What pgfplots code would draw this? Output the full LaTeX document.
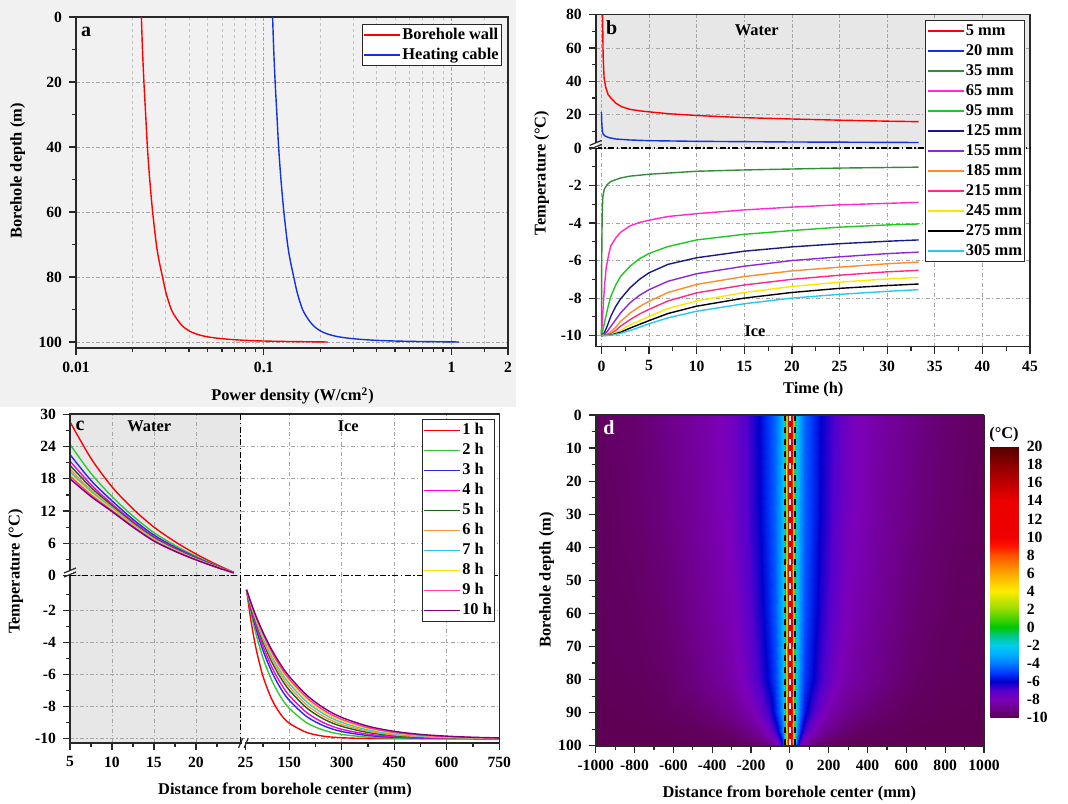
\documentclass[border=0pt]{standalone}
\usepackage{fontspec}
\setmainfont{Liberation Serif}
\usepackage{pgfplots}
\usepackage{pgfplotstable}
\pgfplotsset{compat=1.18}

\definecolor{bgA}{RGB}{241,241,241}
\definecolor{fillgray}{RGB}{231,231,231}
\definecolor{gridc}{RGB}{165,165,165}
\definecolor{frame}{RGB}{40,40,40}
\definecolor{bA}{RGB}{255,0,0}
\definecolor{bB}{RGB}{20,50,220}
\definecolor{bC}{RGB}{50,140,60}
\definecolor{bD}{RGB}{255,40,210}
\definecolor{bE}{RGB}{30,200,30}
\definecolor{bF}{RGB}{25,25,130}
\definecolor{bG}{RGB}{140,40,220}
\definecolor{bH}{RGB}{255,140,40}
\definecolor{bI}{RGB}{255,40,130}
\definecolor{bJ}{RGB}{255,230,0}
\definecolor{bK}{RGB}{0,0,0}
\definecolor{bL}{RGB}{40,200,240}
\definecolor{hA}{RGB}{255,0,0}
\definecolor{hB}{RGB}{50,200,50}
\definecolor{hC}{RGB}{40,40,230}
\definecolor{hD}{RGB}{255,0,230}
\definecolor{hE}{RGB}{20,100,20}
\definecolor{hF}{RGB}{255,150,50}
\definecolor{hG}{RGB}{40,200,240}
\definecolor{hH}{RGB}{255,230,0}
\definecolor{hI}{RGB}{255,60,160}
\definecolor{hJ}{RGB}{128,0,128}

\newcommand\tickf{\bfseries\fontsize{7.8}{9}\selectfont}
\newcommand\lab{\bfseries\fontsize{8.2}{10}\selectfont}

\pgfplotsset{
  colormap={heat}{rgb255(0pt)=(95,0,85); rgb255(1pt)=(110,0,140); rgb255(2pt)=(125,0,185);
    rgb255(3pt)=(85,0,205); rgb255(4pt)=(0,0,205); rgb255(5pt)=(0,60,255); rgb255(6pt)=(0,125,255);
    rgb255(7pt)=(0,175,255); rgb255(8pt)=(0,205,235); rgb255(9pt)=(0,200,140); rgb255(10pt)=(0,200,0);
    rgb255(12pt)=(150,220,0); rgb255(14pt)=(255,235,0); rgb255(16pt)=(255,165,0); rgb255(18pt)=(255,80,0);
    rgb255(19pt)=(255,20,0); rgb255(20pt)=(240,0,0); rgb255(24pt)=(235,0,0); rgb255(26pt)=(190,0,0);
    rgb255(28pt)=(140,0,0); rgb255(30pt)=(85,0,0)},
  base/.style={scale only axis, tick align=outside, tick pos=left,
    major tick length=3.5pt, minor tick length=2pt,
    tick style={frame, line width=0.6pt},
    axis line style={frame, line width=0.8pt},
    tick label style={font=\tickf},
    /pgf/number format/assume math mode=true,
    /pgf/number format/set thousands separator={},
    scaled ticks=false,
    grid style={gridc, line width=0.4pt, dash pattern=on 2pt off 1.2pt on 0.6pt off 1.2pt},
    every axis plot/.append style={line width=0.7pt},
  },
  leg/.style={legend cell align=left,
    legend style={draw=frame, line width=0.5pt, fill=white, inner sep=0.6pt, row sep=0.6pt,
      font=\bfseries\fontsize{8.2}{9}\selectfont,
      nodes={inner sep=0.7pt, text height=6.2pt, text depth=1.8pt},
      /tikz/every even column/.append style={column sep=2pt}},
    legend image code/.code={\draw[##1, line width=0.8pt] (0pt,0pt) -- (18pt,0pt);}},
}

\pgfplotstableread{
x h1 h2 h3 h4 h5 h6 h7 h8 h9 h10
5 28.6 24.4 22.5 21.3 20.5 19.8 19.3 18.9 18.5 18.0
7.5 21.8 19.0 17.7 16.9 16.4 15.9 15.6 15.3 15.0 14.7
10 16.5 14.7 13.9 13.3 13.0 12.7 12.5 12.3 12.1 11.9
12.5 12.4 11.05 10.45 10.06 9.80 9.58 9.42 9.29 9.16 9.0
15 9.0 7.97 7.51 7.21 7.01 6.84 6.72 6.62 6.52 6.4
17.5 6.3 5.59 5.27 5.06 4.92 4.81 4.72 4.65 4.58 4.5
20 4.0 3.56 3.37 3.24 3.16 3.09 3.04 2.99 2.95 2.9
22.5 2.0 1.80 1.71 1.66 1.62 1.59 1.56 1.54 1.52 1.5
24.5 0.6 0.56 0.54 0.53 0.52 0.52 0.51 0.51 0.50 0.5
}\waterC

\pgfplotstableread{
x h1 h2 h3 h4 h5 h6 h7 h8 h9 h10
28 -0.70 -0.70 -0.70 -0.70 -0.70 -0.70 -0.70 -0.70 -0.70 -0.70
40 -2.55 -2.05 -1.86 -1.77 -1.67 -1.61 -1.56 -1.53 -1.50 -1.46
55 -4.36 -3.46 -3.11 -2.93 -2.74 -2.63 -2.53 -2.46 -2.40 -2.34
75 -6.10 -4.96 -4.49 -4.22 -3.96 -3.80 -3.66 -3.55 -3.46 -3.35
100 -7.54 -6.35 -5.82 -5.52 -5.20 -5.01 -4.82 -4.69 -4.58 -4.44
125 -8.46 -7.37 -6.84 -6.52 -6.18 -5.97 -5.78 -5.63 -5.51 -5.35
150 -9.03 -8.10 -7.60 -7.30 -6.96 -6.75 -6.55 -6.40 -6.27 -6.11
200 -9.61 -9.01 -8.62 -8.37 -8.08 -7.89 -7.70 -7.55 -7.43 -7.28
250 -9.85 -9.48 -9.21 -9.02 -8.79 -8.63 -8.47 -8.34 -8.24 -8.10
300 -9.94 -9.73 -9.55 -9.41 -9.23 -9.11 -8.98 -8.88 -8.79 -8.67
375 -9.99 -9.90 -9.80 -9.72 -9.61 -9.53 -9.45 -9.37 -9.31 -9.22
450 -10 -9.96 -9.91 -9.87 -9.81 -9.76 -9.70 -9.65 -9.61 -9.54
525 -10 -9.99 -9.96 -9.94 -9.90 -9.87 -9.84 -9.80 -9.78 -9.73
600 -10 -9.99 -9.98 -9.97 -9.95 -9.93 -9.91 -9.89 -9.87 -9.84
675 -10 -10 -9.99 -9.99 -9.98 -9.96 -9.95 -9.94 -9.93 -9.91
750 -10 -10 -10 -9.99 -9.99 -9.98 -9.97 -9.97 -9.96 -9.95
}\iceC

\begin{document}
\begin{tikzpicture}
\path[use as bounding box] (0,0) rectangle (534pt,401.5pt);
\fill[bgA] (0pt,198pt) rectangle (258pt,401.5pt);

%================ panel a
\begin{axis}[base, leg, at={(38pt,227.5pt)}, anchor=south west, width=216pt, height=165.5pt,
  xmode=log, xmin=0.01, xmax=2, ymin=0, ymax=101.85, y dir=reverse,
  xtick={0.01,0.1,1,2}, xticklabels={0.01,0.1,1,2},
  minor xtick={0.02,0.03,0.04,0.05,0.06,0.07,0.08,0.09,0.2,0.3,0.4,0.5,0.6,0.7,0.8,0.9,1.5},
  ytick={0,20,40,60,80,100}, minor ytick={10,30,50,70,90},
  xmajorgrids, ymajorgrids, xminorgrids,
  minor x grid style={gridc!70, line width=0.35pt, dash pattern=on 1.5pt off 1.5pt},
  legend style={at={(0.9854,0.9789)}, anchor=north east}]
\addplot[bA, smooth] coordinates {(0.0223,0) (0.0226,10) (0.0230,20) (0.0235,30) (0.0240,40) (0.0247,50) (0.0256,60) (0.0268,70) (0.0277,75) (0.0289,80) (0.0302,85) (0.0322,90) (0.0345,93) (0.0368,95) (0.0398,96.5) (0.0435,97.5) (0.0490,98.3) (0.0560,98.8) (0.0660,99.2) (0.0800,99.5) (0.1000,99.7) (0.135,99.85) (0.219,100)};
\addlegendentry{Borehole wall}
\addplot[bB, smooth] coordinates {(0.1115,0) (0.113,10) (0.115,20) (0.1175,30) (0.120,40) (0.1235,50) (0.128,60) (0.134,70) (0.1385,75) (0.1445,80) (0.151,85) (0.161,90) (0.1725,93) (0.184,95) (0.199,96.5) (0.2175,97.5) (0.245,98.3) (0.28,98.8) (0.33,99.2) (0.40,99.5) (0.50,99.7) (0.675,99.85) (1.095,100)};
\addlegendentry{Heating cable}
\end{axis}

%================ panel b (upper: water)
\begin{axis}[base, at={(297.85pt,327.5pt)}, anchor=south west, width=217.15pt, height=66.65pt,
  xmin=-0.6, xmax=45, ymin=0, ymax=80,
  axis line style={draw=none}, axis background/.style={fill=fillgray},
  xtick={0,5,...,45}, xticklabels={}, xtick style={draw=none},
  ytick={0,20,...,80}, minor ytick={10,30,50,70}, grid=major]
\addplot[bA] coordinates {(0.08,130) (0.12,80) (0.18,55) (0.28,42) (0.45,36.5) (0.7,32) (1,30) (1.5,27) (2.1,24.8) (3,23.2) (4,22.3) (5,21.7) (7,20.6) (10,19.5) (15,18.2) (20,17.4) (25,16.7) (30,16.1) (33.3,15.8)};
\addplot[bB] coordinates {(0,21.5) (0.03,16) (0.07,12) (0.12,9.5) (0.2,8.2) (0.4,7.1) (0.8,6.2) (1.5,5.4) (3,4.8) (5,4.4) (10,4.0) (15,3.8) (20,3.6) (25,3.5) (33.3,3.3)};
\end{axis}
%================ panel b (lower: ice)
\begin{axis}[base, at={(297.85pt,228.15pt)}, anchor=south west, width=217.15pt, height=99.35pt,
  xmin=-0.6, xmax=45, ymin=-10.59, ymax=0, axis line style={draw=none},
  xtick={0,5,...,45}, minor xtick={2.5,7.5,...,42.5},
  ytick={-10,-8,...,-2}, minor ytick={-9,-7,...,-1}, grid=major]
\addplot[bC] coordinates {(0,-10) (0.03,-6) (0.08,-3.5) (0.15,-2.6) (0.3,-2.2) (0.6,-1.95) (1,-1.78) (2,-1.6) (3,-1.5) (5,-1.4) (10,-1.24) (15,-1.17) (20,-1.12) (25,-1.07) (30,-1.04) (33.3,-1.02)};
\addplot[bD] coordinates {(0,-10) (0.1,-9.2) (0.2,-8.3) (0.35,-7.2) (0.5,-6.4) (0.75,-5.7) (1,-5.2) (1.5,-4.8) (2,-4.5) (3,-4.15) (4,-3.97) (5,-3.85) (7,-3.65) (10,-3.5) (15,-3.3) (20,-3.15) (25,-3.03) (30,-2.95) (33.3,-2.9)};
\addplot[bE] coordinates {(0,-10) (0.2,-9.6) (0.5,-8.9) (0.75,-8.35) (1,-7.9) (1.5,-7.3) (2,-6.85) (3,-6.3) (4,-5.9) (5,-5.62) (7,-5.25) (10,-4.9) (15,-4.6) (20,-4.4) (25,-4.22) (30,-4.1) (33.3,-4.05)};
\addplot[bF] coordinates {(0,-10) (0.3,-9.85) (0.6,-9.5) (1,-8.95) (1.5,-8.45) (2,-8.05) (3,-7.45) (4,-7.0) (5,-6.65) (7,-6.2) (10,-5.85) (15,-5.5) (20,-5.27) (25,-5.1) (30,-4.97) (33.3,-4.9)};
\addplot[bG] coordinates {(0,-10) (0.5,-9.85) (1,-9.5) (1.5,-9.15) (2,-8.8) (3,-8.25) (4,-7.85) (5,-7.55) (7,-7.1) (10,-6.7) (15,-6.3) (20,-6.0) (25,-5.8) (30,-5.63) (33.3,-5.55)};
\addplot[bH] coordinates {(0,-10) (0.7,-9.9) (1,-9.78) (1.5,-9.55) (2,-9.25) (3,-8.8) (4,-8.45) (5,-8.17) (7,-7.7) (10,-7.27) (15,-6.85) (20,-6.55) (25,-6.35) (30,-6.17) (33.3,-6.08)};
\addplot[bI] coordinates {(0,-10) (1,-9.9) (1.5,-9.72) (2,-9.5) (3,-9.15) (4,-8.85) (5,-8.6) (7,-8.15) (10,-7.72) (15,-7.3) (20,-7.0) (25,-6.78) (30,-6.6) (33.3,-6.52)};
\addplot[bJ] coordinates {(0,-10) (1,-9.95) (2,-9.72) (3,-9.43) (4,-9.2) (5,-8.98) (7,-8.55) (10,-8.15) (15,-7.7) (20,-7.38) (25,-7.15) (30,-6.98) (33.3,-6.9)};
\addplot[bK] coordinates {(0,-10) (1,-9.97) (2,-9.82) (3,-9.6) (4,-9.4) (5,-9.2) (7,-8.82) (10,-8.43) (15,-8.0) (20,-7.7) (25,-7.48) (30,-7.33) (33.3,-7.25)};
\addplot[bL] coordinates {(0,-10) (1,-9.98) (2,-9.88) (3,-9.73) (4,-9.55) (5,-9.37) (7,-9.05) (10,-8.7) (15,-8.3) (20,-8.0) (25,-7.8) (30,-7.64) (33.3,-7.55)};
\end{axis}
\draw[frame, line width=0.8pt] (297.85pt,228.15pt) rectangle (515pt,394.15pt);
\draw[black, line width=0.6pt, dash pattern=on 3pt off 1.2pt on 0.8pt off 1.2pt] (297.85pt,327.5pt) -- (515pt,327.5pt);
\fill[white] (296.5pt,327.6pt) rectangle (299.2pt,330.2pt);
\draw[frame, line width=0.6pt] (294.85pt,326.8pt) -- (300.85pt,329.3pt);
\draw[frame, line width=0.6pt] (294.85pt,328.8pt) -- (300.85pt,331.3pt);
\begin{axis}[leg, hide axis, scale only axis, at={(297.85pt,228.15pt)}, anchor=south west,
  width=217.15pt, height=99.35pt, xmin=0, xmax=1, ymin=0, ymax=1,
  legend style={at={(0.9885,1.644)}, anchor=north east}]
\addlegendimage{bA}\addlegendentry{5 mm}
\addlegendimage{bB}\addlegendentry{20 mm}
\addlegendimage{bC}\addlegendentry{35 mm}
\addlegendimage{bD}\addlegendentry{65 mm}
\addlegendimage{bE}\addlegendentry{95 mm}
\addlegendimage{bF}\addlegendentry{125 mm}
\addlegendimage{bG}\addlegendentry{155 mm}
\addlegendimage{bH}\addlegendentry{185 mm}
\addlegendimage{bI}\addlegendentry{215 mm}
\addlegendimage{bJ}\addlegendentry{245 mm}
\addlegendimage{bK}\addlegendentry{275 mm}
\addlegendimage{bL}\addlegendentry{305 mm}
\end{axis}

%================ panel c
\begin{axis}[base, at={(35pt,113.75pt)}, anchor=south west, width=85.25pt, height=80.6pt,
  xmin=5, xmax=25.3, ymin=0, ymax=30, axis line style={draw=none},
  axis background/.style={fill=fillgray},
  xtick={10,15,20}, xticklabels={}, xtick style={draw=none},
  ytick={0,6,...,30}, minor ytick={3,9,...,27}, grid=major]
\addplot[hA, smooth] table[x=x,y=h1]{\waterC};
\addplot[hB, smooth] table[x=x,y=h2]{\waterC};
\addplot[hC, smooth] table[x=x,y=h3]{\waterC};
\addplot[hD, smooth] table[x=x,y=h4]{\waterC};
\addplot[hE, smooth] table[x=x,y=h5]{\waterC};
\addplot[hF, smooth] table[x=x,y=h6]{\waterC};
\addplot[hG, smooth] table[x=x,y=h7]{\waterC};
\addplot[hH, smooth] table[x=x,y=h8]{\waterC};
\addplot[hI, smooth] table[x=x,y=h9]{\waterC};
\addplot[hJ, smooth] table[x=x,y=h10]{\waterC};
\end{axis}
\begin{axis}[base, at={(35pt,30.15pt)}, anchor=south west, width=85.25pt, height=83.6pt,
  xmin=5, xmax=25.3, ymin=-10.25, ymax=0.2, axis line style={draw=none},
  axis background/.style={fill=fillgray},
  xtick={5,10,15,20}, minor xtick={7.5,12.5,17.5,22.5},
  ytick={-10,-8,...,-2}, minor ytick={-9,-7,...,-1}, grid=major]
\end{axis}
\begin{axis}[base, at={(120.25pt,30.15pt)}, anchor=south west, width=129.4pt, height=83.6pt,
  xmin=10.7, xmax=750, ymin=-10.25, ymax=0.2, axis line style={draw=none},
  xtick={150,300,450,600}, extra x ticks={25,750}, extra x tick style={grid=none},
  minor xtick={75,225,375,525,675},
  ytick={-10,-8,...,-2}, yticklabels={}, ytick style={draw=none}, grid=major]
\addplot[hA, smooth] table[x=x,y=h1]{\iceC};
\addplot[hB, smooth] table[x=x,y=h2]{\iceC};
\addplot[hC, smooth] table[x=x,y=h3]{\iceC};
\addplot[hD, smooth] table[x=x,y=h4]{\iceC};
\addplot[hE, smooth] table[x=x,y=h5]{\iceC};
\addplot[hF, smooth] table[x=x,y=h6]{\iceC};
\addplot[hG, smooth] table[x=x,y=h7]{\iceC};
\addplot[hH, smooth] table[x=x,y=h8]{\iceC};
\addplot[hI, smooth] table[x=x,y=h9]{\iceC};
\addplot[hJ, smooth] table[x=x,y=h10]{\iceC};
\end{axis}
\begin{axis}[base, at={(120.25pt,113.75pt)}, anchor=south west, width=129.4pt, height=80.6pt,
  xmin=10.7, xmax=750, ymin=0, ymax=30, axis line style={draw=none},
  xtick={150,300,450,600}, xticklabels={}, xtick style={draw=none},
  ytick={6,12,...,24}, yticklabels={}, ytick style={draw=none}, grid=major]
\end{axis}
\draw[frame, line width=0.8pt] (35pt,30.15pt) rectangle (249.65pt,194.35pt);
\draw[black, line width=0.6pt, dash pattern=on 3pt off 1.2pt on 0.8pt off 1.2pt] (35pt,113.75pt) -- (249.65pt,113.75pt);
\draw[black, line width=0.6pt, dash pattern=on 3pt off 1.2pt on 0.8pt off 1.2pt] (120.25pt,30.15pt) -- (120.25pt,194.35pt);
\fill[white] (33.7pt,113.9pt) rectangle (36.3pt,116.3pt);
\draw[frame, line width=0.6pt] (32pt,113pt) -- (38pt,115.5pt);
\draw[frame, line width=0.6pt] (32pt,115pt) -- (38pt,117.5pt);
\fill[white] (120.9pt,28.8pt) rectangle (122.6pt,31.5pt);
\draw[frame, line width=0.6pt] (119.3pt,27.6pt) -- (121.3pt,32.4pt);
\draw[frame, line width=0.6pt] (122.1pt,27.6pt) -- (124.1pt,32.4pt);
\begin{axis}[leg, hide axis, scale only axis, at={(120.25pt,113.75pt)}, anchor=south west,
  width=129.4pt, height=80.6pt, xmin=0, xmax=1, ymin=0, ymax=1,
  legend style={at={(0.9834,0.969)}, anchor=north east}]
\addlegendimage{hA}\addlegendentry{1 h}
\addlegendimage{hB}\addlegendentry{2 h}
\addlegendimage{hC}\addlegendentry{3 h}
\addlegendimage{hD}\addlegendentry{4 h}
\addlegendimage{hE}\addlegendentry{5 h}
\addlegendimage{hF}\addlegendentry{6 h}
\addlegendimage{hG}\addlegendentry{7 h}
\addlegendimage{hH}\addlegendentry{8 h}
\addlegendimage{hI}\addlegendentry{9 h}
\addlegendimage{hJ}\addlegendentry{10 h}
\end{axis}

%================ panel d
\begin{axis}[base, at={(297.85pt,28.65pt)}, anchor=south west, width=194.15pt, height=165.35pt,
  view={0}{90}, xmin=-1000, xmax=1000, ymin=0, ymax=100, y dir=reverse, ztick=\empty,
  xtick={-1000,-800,...,1000}, minor x tick num=1, ytick={0,10,...,100}, minor y tick num=1,
  axis on top, colormap name=heat, point meta min=-10, point meta max=20,
  colorbar, colorbar style={scale only axis, at={(parent axis.north east)}, anchor=north west,
    xshift=-5.3pt, yshift=-15.85pt, width=14.65pt, height=135.3pt,
    ytick={-10,-8,...,20}, major tick length=0pt, axis line style={draw=none},
    yticklabel style={font=\tickf},
    /pgf/number format/assume math mode=true, scaled ticks=false}]
\addplot3[surf, shader=interp] coordinates {
(-1000,0,-9.8) (-800,0,-9.5) (-650,0,-9.1) (-500,0,-8.6) (-400,0,-8.2) (-300,0,-7.7) (-220,0,-6.9) (-160,0,-6.0) (-110,0,-5.0) (-75,0,-4.3) (-50,0,-3.3) (-35,0,-2.4) (-27,0,-1) (-22,0,2) (-16,0,6) (-10,0,10) (-4,0,13) (0,0,16) (4,0,13) (10,0,10) (16,0,6) (22,0,2) (27,0,-1) (35,0,-2.4) (50,0,-3.3) (75,0,-4.3) (110,0,-5.0) (160,0,-6.0) (220,0,-6.9) (300,0,-7.7) (400,0,-8.2) (500,0,-8.6) (650,0,-9.1) (800,0,-9.5) (1000,0,-9.8)

(-1000,30,-9.85) (-800,30,-9.6) (-650,30,-9.25) (-500,30,-8.75) (-400,30,-8.3) (-300,30,-7.8) (-220,30,-7.0) (-160,30,-6.1) (-110,30,-5.1) (-75,30,-4.4) (-50,30,-3.4) (-35,30,-2.4) (-27,30,-1) (-22,30,2) (-16,30,6) (-10,30,10) (-4,30,13) (0,30,16) (4,30,13) (10,30,10) (16,30,6) (22,30,2) (27,30,-1) (35,30,-2.4) (50,30,-3.4) (75,30,-4.4) (110,30,-5.1) (160,30,-6.1) (220,30,-7.0) (300,30,-7.8) (400,30,-8.3) (500,30,-8.75) (650,30,-9.25) (800,30,-9.6) (1000,30,-9.85)

(-1000,60,-9.9) (-800,60,-9.75) (-650,60,-9.5) (-500,60,-9.0) (-400,60,-8.55) (-300,60,-8.05) (-220,60,-7.3) (-160,60,-6.4) (-110,60,-5.4) (-75,60,-4.6) (-50,60,-3.5) (-35,60,-2.5) (-27,60,-1) (-22,60,2) (-16,60,6) (-10,60,10) (-4,60,13) (0,60,16) (4,60,13) (10,60,10) (16,60,6) (22,60,2) (27,60,-1) (35,60,-2.5) (50,60,-3.5) (75,60,-4.6) (110,60,-5.4) (160,60,-6.4) (220,60,-7.3) (300,60,-8.05) (400,60,-8.55) (500,60,-9.0) (650,60,-9.5) (800,60,-9.75) (1000,60,-9.9)

(-1000,80,-9.95) (-800,80,-9.85) (-650,80,-9.7) (-500,80,-9.25) (-400,80,-8.85) (-300,80,-8.4) (-220,80,-7.7) (-160,80,-6.8) (-110,80,-5.8) (-75,80,-5.0) (-50,80,-3.8) (-35,80,-2.7) (-27,80,-1.1) (-22,80,2) (-16,80,6) (-10,80,10) (-4,80,13) (0,80,16) (4,80,13) (10,80,10) (16,80,6) (22,80,2) (27,80,-1.1) (35,80,-2.7) (50,80,-3.8) (75,80,-5.0) (110,80,-5.8) (160,80,-6.8) (220,80,-7.7) (300,80,-8.4) (400,80,-8.85) (500,80,-9.25) (650,80,-9.7) (800,80,-9.85) (1000,80,-9.95)

(-1000,90,-10) (-800,90,-9.95) (-650,90,-9.85) (-500,90,-9.65) (-400,90,-9.4) (-300,90,-9.0) (-220,90,-8.5) (-160,90,-7.7) (-110,90,-6.7) (-75,90,-5.6) (-50,90,-4.3) (-35,90,-3.0) (-27,90,-1.2) (-22,90,2) (-16,90,6) (-10,90,10) (-4,90,13) (0,90,16) (4,90,13) (10,90,10) (16,90,6) (22,90,2) (27,90,-1.2) (35,90,-3.0) (50,90,-4.3) (75,90,-5.6) (110,90,-6.7) (160,90,-7.7) (220,90,-8.5) (300,90,-9.0) (400,90,-9.4) (500,90,-9.65) (650,90,-9.85) (800,90,-9.95) (1000,90,-10)

(-1000,96,-10) (-800,96,-10) (-650,96,-10) (-500,96,-9.9) (-400,96,-9.8) (-300,96,-9.6) (-220,96,-9.2) (-160,96,-8.7) (-110,96,-7.8) (-75,96,-6.8) (-50,96,-5.4) (-35,96,-3.8) (-27,96,-1.6) (-22,96,2) (-16,96,6) (-10,96,10) (-4,96,13) (0,96,16) (4,96,13) (10,96,10) (16,96,6) (22,96,2) (27,96,-1.6) (35,96,-3.8) (50,96,-5.4) (75,96,-6.8) (110,96,-7.8) (160,96,-8.7) (220,96,-9.2) (300,96,-9.6) (400,96,-9.8) (500,96,-9.9) (650,96,-10) (800,96,-10) (1000,96,-10)

(-1000,100,-10) (-800,100,-10) (-650,100,-10) (-500,100,-10) (-400,100,-10) (-300,100,-9.95) (-220,100,-9.85) (-160,100,-9.7) (-110,100,-9.3) (-75,100,-8.6) (-50,100,-7.5) (-35,100,-5.5) (-27,100,-2.5) (-22,100,2) (-16,100,6) (-10,100,10) (-4,100,13) (0,100,16) (4,100,13) (10,100,10) (16,100,6) (22,100,2) (27,100,-2.5) (35,100,-5.5) (50,100,-7.5) (75,100,-8.6) (110,100,-9.3) (160,100,-9.7) (220,100,-9.85) (300,100,-9.95) (400,100,-10) (500,100,-10) (650,100,-10) (800,100,-10) (1000,100,-10)
};
\addplot3[white, dashed, line width=0.8pt] coordinates {(0,0,20) (0,100,20)};
\addplot3[black, dashed, line width=0.8pt] coordinates {(-25,0,20) (-25,100,20)};
\addplot3[black, dashed, line width=0.8pt] coordinates {(25,0,20) (25,100,20)};
\end{axis}

%================ labels
\node[font=\lab] at (146.25pt,203.5pt) {Power density (W/cm\textsuperscript{2})};
\node[font=\lab, rotate=90] at (8.85pt,316pt) {Borehole depth (m)};
\node[font=\lab] at (406.65pt,206.5pt) {Time (h)};
\node[font=\lab, rotate=90] at (270.85pt,315pt) {Temperature (°C)};
\node[font=\lab] at (142.5pt,6.15pt) {Distance from borehole center (mm)};
\node[font=\lab, rotate=90] at (7.85pt,115.65pt) {Temperature (°C)};
\node[font=\lab] at (394.65pt,4.85pt) {Distance from borehole center (mm)};
\node[font=\lab, rotate=90] at (273.35pt,111.5pt) {Borehole depth (m)};
\node[font=\bfseries\fontsize{10}{12}\selectfont] at (43pt,385.5pt) {a};
\node[font=\bfseries\fontsize{10}{12}\selectfont] at (305.85pt,387.65pt) {b};
\node[font=\bfseries\fontsize{10}{12}\selectfont] at (40pt,188.5pt) {c};
\node[font=\bfseries\fontsize{10}{12}\selectfont, white] at (304.5pt,187.5pt) {d};
\node[font=\lab] at (378.35pt,386.5pt) {Water};
\node[font=\lab] at (377.5pt,236pt) {Ice};
\node[font=\lab] at (74.65pt,188.15pt) {Water};
\node[font=\lab] at (174.15pt,188.15pt) {Ice};
\node[font=\lab] at (502pt,184pt) {(°C)};
\end{tikzpicture}
\end{document}
